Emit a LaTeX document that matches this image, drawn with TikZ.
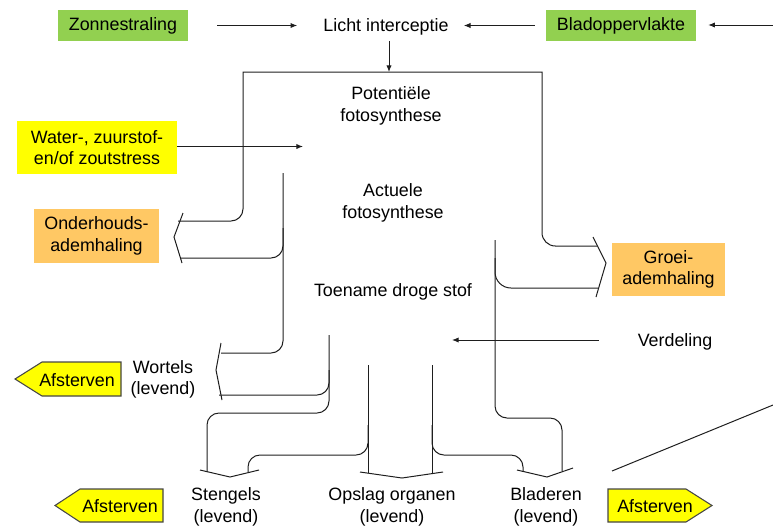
\documentclass[tikz,border=0pt]{standalone}
\usepackage{fontspec}
\setmainfont{Liberation Sans}
\usetikzlibrary{arrows.meta}
\definecolor{cropgreen}{RGB}{146,208,80}
\definecolor{cropyellow}{RGB}{255,255,0}
\definecolor{croporange}{RGB}{255,200,100}
\definecolor{cropline}{RGB}{30,30,30}
\definecolor{cropedge}{RGB}{70,70,70}
\tikzset{
  flowbox/.style={inner sep=0pt, align=center},
  flowtext/.style={inner sep=0pt, align=center},
  channel/.style={draw=cropline, line width=0.75pt, rounded corners=9pt},
  valve/.style={draw=cropline, line width=0.75pt},
  feed/.style={draw=cropline, line width=0.75pt, -{Latex[length=5pt,width=4pt]}},
  dieoff/.style={fill=cropyellow, draw=cropedge, line width=0.8pt}
}

\begin{document}
\begin{tikzpicture}[x=0.75pt, y=-0.75pt, font=\fontsize{13.4}{16}\selectfont]
\useasboundingbox (0,0) rectangle (773,526);

% Driving variables
\node[flowbox, fill=cropgreen, minimum width=97.5pt, minimum height=23.25pt] (zon) at (123,25.5) {Zonnestraling};
\node[flowbox, fill=cropgreen, minimum width=112.5pt, minimum height=23.25pt] (blad) at (621,25.5) {Bladoppervlakte};
\node[flowbox, fill=cropyellow, minimum width=120pt, minimum height=39.75pt] (water) at (97,147.5) {Water-, zuurstof-\\en/of zoutstress};
\node[flowbox, fill=croporange, minimum width=93.75pt, minimum height=40.5pt] (onderhoud) at (96.5,236) {Onderhouds-\\ademhaling};
\node[flowbox, fill=croporange, minimum width=84.75pt, minimum height=39.75pt] (groei) at (668.5,269.5) {Groei-\\ademhaling};

% Process texts
\node[flowtext] (licht) at (386,27) {Licht interceptie};
\node[flowtext] (potent) at (391,106) {Potentiële\\fotosynthese};
\node[flowtext] (actueel) at (393,203) {Actuele\\fotosynthese};
\node[flowtext] (toename) at (393,292) {Toename droge stof};
\node[flowtext] (verdeling) at (675,342) {Verdeling};
\node[flowtext] (wortels) at (163,379.5) {Wortels\\(levend)};
\node[flowtext] (stengels) at (226,507) {Stengels\\(levend)};
\node[flowtext] (opslag) at (392,507) {Opslag organen\\(levend)};
\node[flowtext] (bladeren) at (546,507) {Bladeren\\(levend)};

% Afsterven arrows
\draw[dieoff] (121,362) -- (42,362) -- (15,379) -- (42,396) -- (121,396) -- cycle;
\node[flowtext] (afstW) at (77,380) {Afsterven};
\draw[dieoff] (163,489) -- (80,489) -- (55,505.5) -- (80,522) -- (163,522) -- cycle;
\node[flowtext] (afstS) at (120,506.5) {Afsterven};
\draw[dieoff] (608,489) -- (686,489) -- (712,505.5) -- (686,522) -- (608,522) -- cycle;
\node[flowtext] (afstB) at (655,506.5) {Afsterven};

% Information arrows
\coordinate (edgeR) at (773,25);
\coordinate (potTop) at (389,72);
\coordinate (waterEnd) at (303,146.5);
\coordinate (verdEnd) at (452,340);
\draw[feed, shorten <=21.75pt, shorten >=19.5pt] (zon) -- (zon -| licht.west);
\draw[feed, shorten <=8.25pt, shorten >=11.25pt] (blad) -- (blad -| licht.east);
\draw[feed, shorten >=9pt] (edgeR) -- (edgeR -| blad.east);
\draw[feed, shorten <=4pt] (licht.south -| potTop) -- (potTop);
\draw[feed] (water.east |- waterEnd) -- (waterEnd);
\draw[feed, shorten <=29pt] (verdeling.west |- verdEnd) -- (verdEnd);

% Flow channels
\draw[channel] (178,221) -- (243,221) -- (243,140) [sharp corners] -- (243,72) -- (542,72) -- (542,140) [rounded corners=10pt] -- (542,246) -- (597,246);
\draw[channel] (283,173) -- (283,353) -- (221,353);
\draw[channel] (181,258) -- (283,258) -- (283,228);
\draw[channel] (219,395) -- (329,395) -- (329,370);
\draw[channel] (329,335) -- (329,413) -- (207,413) -- (207,472);
\draw[channel] (248,472) -- (248,455) -- (368,455) -- (368,425);
\draw[channel] (368,365) -- (368,473);
\draw[channel] (432,365) -- (432,473);
\draw[channel] (432,425) -- (432,455) -- (523,455) -- (523,471);
\draw[channel] (495,240) -- (495,418) -- (562,418) -- (562,471);
\draw[channel, rounded corners=12pt] (495,258) -- (495,288) -- (598,288);

% Valves
\draw[valve] (183,213) -- (174,237) -- (182,263);
\draw[valve] (593,237) -- (606,263) -- (596,297);
\draw[valve] (221,343) -- (216,370) -- (222,400);
\draw[valve] (200,470) -- (230,477) -- (259,470);
\draw[valve] (360,472) -- (402,478) -- (443,472);
\draw[valve] (517,470) -- (547,477) -- (573,468);

% Loose line
\coordinate (diagA) at (612,471);
\coordinate (diagB) at (773,405);
\draw[valve] (diagA) -- (diagB);
\end{tikzpicture}
\end{document}
